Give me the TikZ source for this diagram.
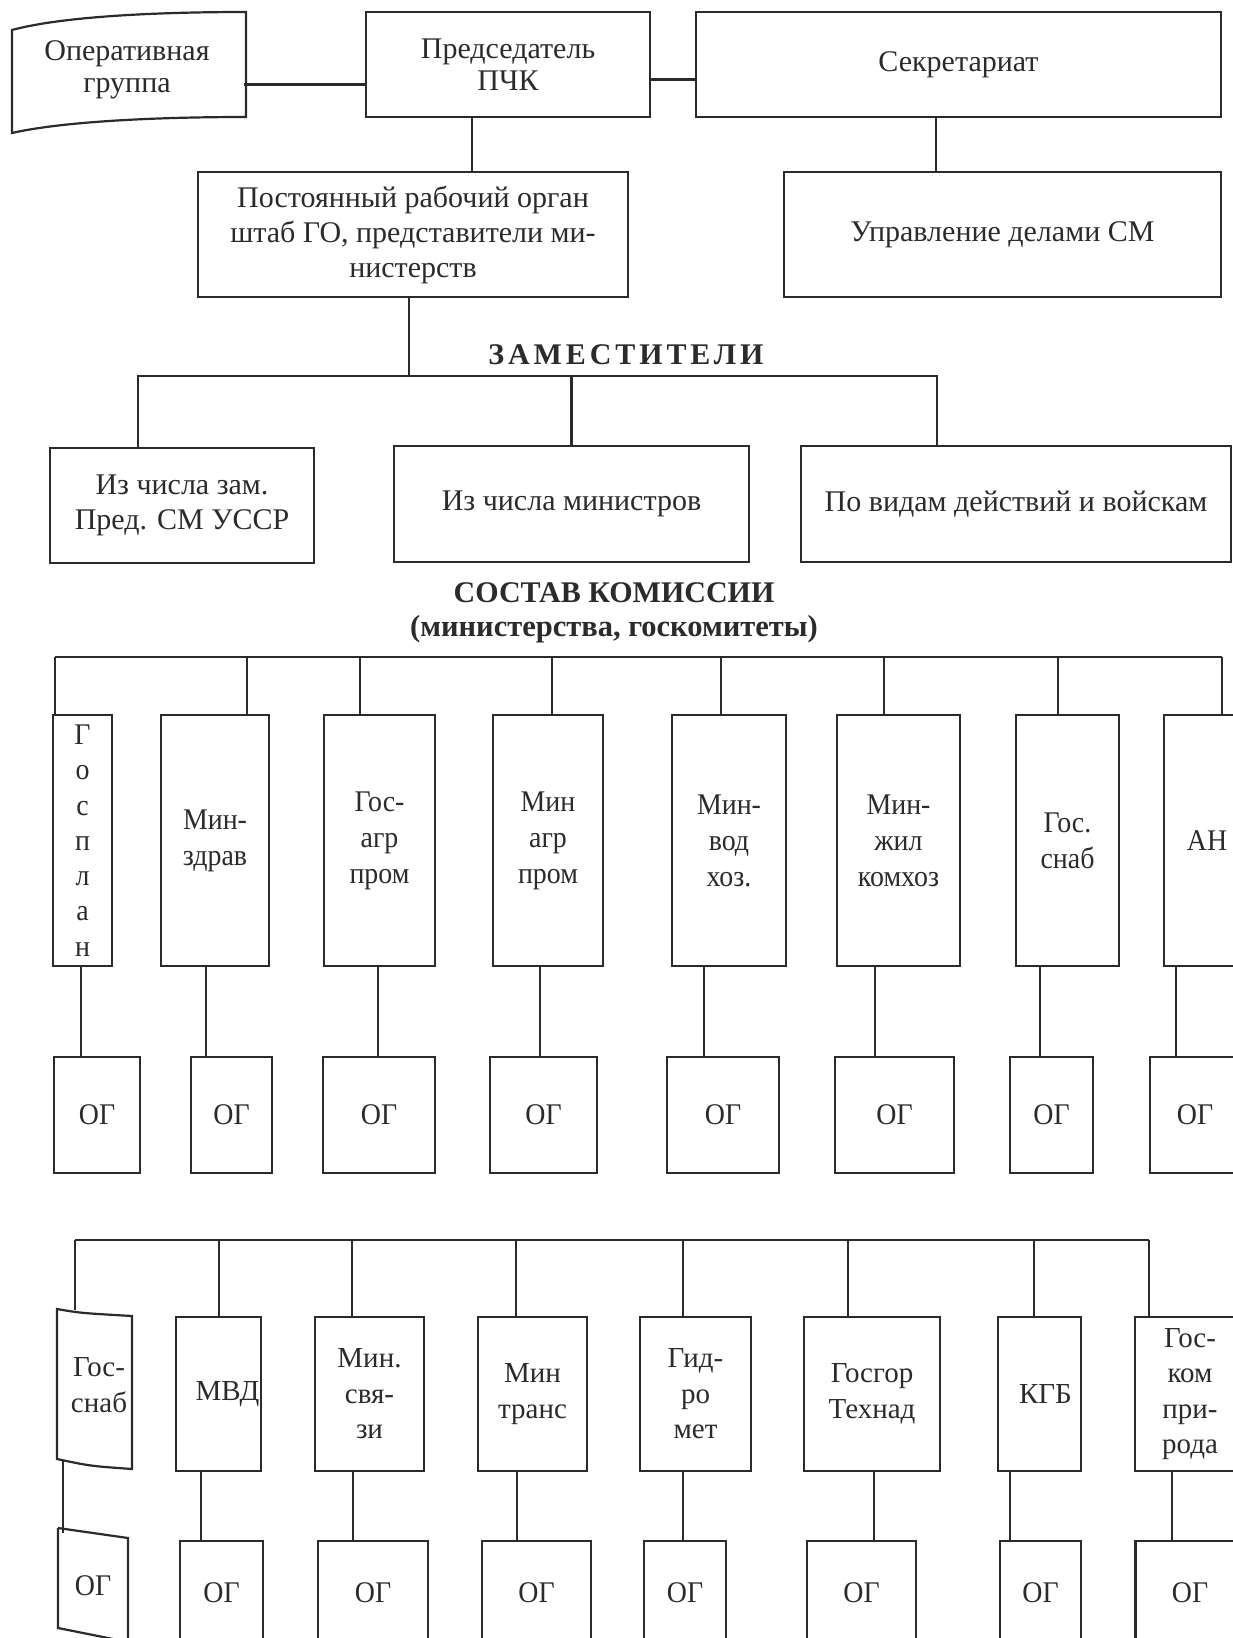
\documentclass[tikz,border=0pt]{standalone}
\usepackage{fontspec}
\setmainfont{Liberation Serif}
\newfontfamily\cond[FakeStretch=0.93]{Liberation Serif}
\newfontfamily\spaced[LetterSpace=13]{Liberation Serif}
\definecolor{ink}{gray}{0.17}
\begin{document}
\begin{tikzpicture}[x=1pt,y=-1pt,
  box/.style={draw=ink, line width=2.2pt, inner sep=0pt, align=center, text=ink},
  ghost/.style={inner sep=0pt, align=center, text=ink},
  link/.style={draw=ink, line width=2.2pt},
  ft/.style={font=\fontsize{30}{32}\selectfont},
  fm/.style={font=\fontsize{30}{35}\selectfont},
  fc/.style={font=\cond\fontsize{30}{36}\selectfont},
  fr/.style={font=\fontsize{29}{35.5}\selectfont},
  title/.style={text=ink, inner sep=0pt, font=\bfseries\fontsize{30}{34}\selectfont}]
\path[use as bounding box, fill=white] (0,0) rectangle (1233,1638);
\clip (0,0) rectangle (1233,1638);

% ---------- top level ----------
\node[ghost, ft, minimum width=234pt, minimum height=112pt] (oper) at (127,70) {Оперативная\\группа};
\draw[link] (12,30) .. controls (60,17) and (150,12) .. (246,12) -- (246,117)
  .. controls (150,117) and (60,122) .. (12,133) -- cycle;
\node[box, ft, minimum width=284pt, minimum height=105pt] (pred) at (508,64.5) {Председатель\\ПЧК};
\node[box, ft, minimum width=525pt, minimum height=105pt] (sekr) at (958.5,64.5) {Секретариат};
\node[box, fm, minimum width=430pt, minimum height=125pt] (post) at (413,234.5) {Постоянный рабочий орган\\штаб ГО, представители ми-\\нистерств};
\node[box, fm, minimum width=437pt, minimum height=125pt] (upr) at (1002.5,234.5) {Управление делами СМ};

\draw[link] ([yshift=-14.5pt]oper.east) -- ([yshift=-14.5pt]oper.east -| pred.west);
\draw[link] ([yshift=-15pt]pred.east) -- ([yshift=-15pt]pred.east -| sekr.west);
\draw[link] ([xshift=-36pt]pred.south) -- ([xshift=-36pt]pred.south |- post.north);
\draw[link] ([xshift=-22.5pt]sekr.south) -- ([xshift=-22.5pt]sekr.south |- upr.north);

% ---------- deputies ----------
\node[title] (zamt) at (626,355) {\spaced ЗАМЕСТИТЕЛИ};
\coordinate (zl) at (138,376);
\coordinate (zr) at (937,376);
\node[box, fm, minimum width=264pt, minimum height=115pt] (zam1) at (182,505.5) {Из числа зам.\\Пред. СМ УССР};
\node[box, fm, minimum width=355pt, minimum height=116pt] (zam2) at (571.5,504) {Из числа министров};
\node[box, fm, minimum width=430pt, minimum height=116pt] (zam3) at (1016,504) {По видам действий и войскам};
\draw[link] ([xshift=-4pt]post.south) -- ([xshift=-4pt]post.south |- zl);
\draw[link] (zam1.north -| zl) -- (zl) -- (zr) -- (zam3.north -| zr);
\draw[link] (zam2.north) -- (zam2.north |- zl);

% ---------- commission ----------
\node[title] (sost) at (614,593) {СОСТАВ КОМИССИИ};
\node[title, font=\bfseries\fontsize{30.5}{34}\selectfont] (sost2) at (614,629) {(министерства, госкомитеты)};

% row 1
\coordinate (b1l) at (55,657);
\coordinate (b1r) at (1222,657);
\draw[link] (b1l) -- (b1r);
\node[box, font=\cond\fontsize{30}{35.3}\selectfont, minimum width=59pt, minimum height=251pt] (r1a) at (82.5,840.5) {Г\\о\\с\\п\\л\\а\\н};
\node[box, fc, minimum width=108pt, minimum height=251pt] (r1b) at (215,840.5) {Мин-\\здрав};
\node[box, fc, minimum width=111pt, minimum height=251pt] (r1c) at (379.5,840.5) {Гос-\\агр\\пром};
\node[box, fc, minimum width=110pt, minimum height=251pt] (r1d) at (548,840.5) {Мин\\агр\\пром};
\node[box, fc, minimum width=114pt, minimum height=251pt] (r1e) at (729,840.5) {Мин-\\вод\\хоз.};
\node[box, fc, minimum width=123pt, minimum height=251pt] (r1f) at (898.5,840.5) {Мин-\\жил\\комхоз};
\node[box, fc, minimum width=103pt, minimum height=251pt] (r1g) at (1067.5,840.5) {Гос.\\снаб};
\node[box, fc, minimum width=86pt, minimum height=251pt] (r1h) at (1207,840.5) {АН};

\node[box, fc, minimum width=86pt, minimum height=116pt] (o1a) at (97,1115) {ОГ};
\node[box, fc, minimum width=81pt, minimum height=116pt] (o1b) at (231.5,1115) {ОГ};
\node[box, fc, minimum width=112pt, minimum height=116pt] (o1c) at (379,1115) {ОГ};
\node[box, fc, minimum width=107pt, minimum height=116pt] (o1d) at (543.5,1115) {ОГ};
\node[box, fc, minimum width=112pt, minimum height=116pt] (o1e) at (723,1115) {ОГ};
\node[box, fc, minimum width=119pt, minimum height=116pt] (o1f) at (894.5,1115) {ОГ};
\node[box, fc, minimum width=83pt, minimum height=116pt] (o1g) at (1051.5,1115) {ОГ};
\node[box, fc, minimum width=90pt, minimum height=116pt] (o1h) at (1195,1115) {ОГ};

\foreach \n/\d in {r1a/-27.5, r1b/32, r1c/-19.5, r1d/4, r1e/-8, r1f/-14.5, r1g/-9.5, r1h/15}
  \draw[link] ([xshift=\d pt]\n.north) -- ([xshift=\d pt]\n.north |- b1l);
\foreach \n/\o/\d in {r1a/o1a/-1.5, r1b/o1b/-9, r1c/o1c/-1.5, r1d/o1d/-8, r1e/o1e/-25, r1f/o1f/-23.5, r1g/o1g/-27.5, r1h/o1h/-31}
  \draw[link] ([xshift=\d pt]\n.south) -- ([xshift=\d pt]\n.south |- \o.north);

% row 2
\coordinate (b2l) at (75,1240);
\coordinate (b2r) at (1149,1240);
\draw[link] (b2l) -- (b2r);
\node[ghost, fr, minimum width=75pt, minimum height=150pt] (r2a) at (99,1385) {Гос-\\снаб};
\draw[link] (57,1309) .. controls (80,1313) .. (132,1316) -- (132,1469)
  .. controls (90,1466) .. (57,1459) -- cycle;
\node[box, fr, minimum width=85pt, minimum height=154pt] (r2b) at (218.5,1394) {\hspace*{18pt}МВД};
\node[box, fr, minimum width=109pt, minimum height=154pt] (r2c) at (369.5,1394) {Мин.\\свя-\\зи};
\node[box, fr, minimum width=109pt, minimum height=154pt] (r2d) at (532.5,1394) {Мин\\транс};
\node[box, fr, minimum width=111pt, minimum height=154pt] (r2e) at (695.5,1394) {Гид-\\ро\\мет};
\node[box, fr, minimum width=136pt, minimum height=154pt] (r2f) at (872,1394) {Госгор\\Технад};
\node[box, fr, minimum width=83pt, minimum height=154pt] (r2g) at (1039.5,1394) {\hspace*{12pt}КГБ};
\node[box, fr, minimum width=110pt, minimum height=154pt] (r2h) at (1190,1394) {Гос-\\ком\\при-\\рода};

\node[ghost, fc, minimum width=70pt, minimum height=106pt] (o2a) at (93,1586) {ОГ};
\draw[link] (58,1528) -- (128,1538) -- (128,1660);
\draw[link] (58,1528) -- (58,1628) -- (128,1642);
\node[box, fc, minimum width=83pt, minimum height=104pt] (o2b) at (221.5,1593) {ОГ};
\node[box, fc, minimum width=110pt, minimum height=104pt] (o2c) at (373,1593) {ОГ};
\node[box, fc, minimum width=109pt, minimum height=104pt] (o2d) at (536.5,1593) {ОГ};
\node[box, fc, minimum width=82pt, minimum height=104pt] (o2e) at (685,1593) {ОГ};
\node[box, fc, minimum width=109pt, minimum height=104pt] (o2f) at (861.5,1593) {ОГ};
\node[box, fc, minimum width=81pt, minimum height=104pt] (o2g) at (1040.5,1593) {ОГ};
\node[box, fc, minimum width=109pt, minimum height=104pt] (o2h) at (1190,1593) {ОГ};

\foreach \n/\d in {r2a/-24, r2b/0.5, r2c/-17.5, r2d/-16.5, r2e/-12.5, r2f/-24, r2g/-5.5, r2h/-41}
  \draw[link] ([xshift=\d pt]\n.north) -- ([xshift=\d pt]\n.north |- b2l);
\foreach \n/\o/\d in {r2a/o2a/-36, r2b/o2b/-17.5, r2c/o2c/-16.5, r2d/o2d/-15.5, r2e/o2e/-12.5, r2f/o2f/2, r2g/o2g/-29.5, r2h/o2h/-18}
  \draw[link] ([xshift=\d pt]\n.south) -- ([xshift=\d pt]\n.south |- \o.north);
\end{tikzpicture}
\end{document}
